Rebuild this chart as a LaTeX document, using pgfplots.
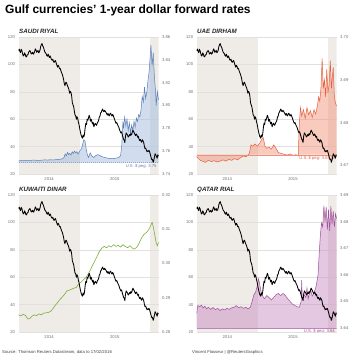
\documentclass[border=0pt]{standalone}
\usepackage{fontspec}
\setmainfont{Liberation Sans}
\usepackage{pgfplots}
\pgfplotsset{compat=1.18}
\usepackage{pgfplotstable}
\usepgfplotslibrary{fillbetween}
\tikzset{fill between/on layer=main}

\definecolor{band}{HTML}{EFEBE7}
\definecolor{gridc}{HTML}{E2E0DE}
\definecolor{tickgray}{HTML}{707070}
\definecolor{saudiline}{HTML}{5B80B8}
\definecolor{saudifill}{HTML}{A3BCDD}
\definecolor{uaeline}{HTML}{E4603F}
\definecolor{uaefill}{HTML}{F2987E}
\definecolor{kuwaitline}{HTML}{7DAE3A}
\definecolor{qatarline}{HTML}{A1509A}
\definecolor{qatarfill}{HTML}{C98FC3}

% Oil price (left axis), x = months since 17 Feb 2014
\pgfplotstableread{
m v
0.00 110.0
0.12 111.2
0.23 109.5
0.35 108.6
0.46 111.0
0.58 110.0
0.69 108.0
0.81 106.2
0.92 106.5
1.04 108.4
1.15 107.5
1.27 105.6
1.38 105.5
1.50 107.0
1.62 107.0
1.73 108.9
1.85 109.5
1.96 110.1
2.08 109.0
2.19 107.6
2.31 108.0
2.42 108.9
2.54 107.5
2.65 108.0
2.77 109.5
2.88 111.3
3.00 110.5
3.11 108.8
3.23 109.5
3.34 110.2
3.46 108.5
3.57 109.0
3.69 110.5
3.80 113.0
3.92 114.5
4.03 115.2
4.15 113.5
4.26 112.6
4.38 111.0
4.50 109.2
4.62 108.5
4.73 107.8
4.85 106.5
4.96 106.0
5.08 107.5
5.19 106.0
5.31 105.0
5.42 106.2
5.54 105.0
5.65 103.5
5.77 103.0
5.88 103.8
6.00 102.0
6.11 101.5
6.23 102.5
6.34 102.8
6.46 101.0
6.57 99.5
6.69 98.0
6.80 99.3
6.92 98.5
7.03 96.8
7.15 97.0
7.26 95.5
7.38 94.0
7.50 92.8
7.62 91.0
7.73 89.0
7.85 86.0
7.96 84.5
8.08 86.5
8.19 87.0
8.31 85.5
8.42 84.2
8.54 83.0
8.65 81.5
8.77 79.0
8.88 80.3
9.00 79.5
9.11 77.0
9.23 72.0
9.34 70.5
9.46 69.0
9.57 66.0
9.69 63.0
9.80 62.5
9.92 60.0
10.03 61.8
10.15 60.5
10.26 58.0
10.38 56.0
10.50 53.0
10.62 50.5
10.73 48.5
10.85 47.0
10.96 46.2
11.08 48.5
11.19 47.0
11.31 49.0
11.42 53.5
11.54 57.0
11.65 56.0
11.77 60.0
11.88 59.2
12.00 61.0
12.11 62.8
12.23 61.5
12.34 58.5
12.46 60.0
12.57 58.2
12.69 56.5
12.80 57.8
12.92 54.5
13.03 55.8
13.15 57.0
13.26 56.2
13.38 55.5
13.50 57.2
13.62 58.0
13.73 59.0
13.85 61.5
13.96 62.2
14.08 64.5
14.19 65.2
14.31 66.5
14.42 67.4
14.54 66.0
14.65 65.5
14.77 66.5
14.88 65.8
15.00 65.0
15.11 64.0
15.23 63.0
15.34 64.2
15.46 63.0
15.57 62.4
15.69 64.0
15.80 64.4
15.92 63.0
16.03 62.3
16.15 63.5
16.26 62.5
16.38 61.0
16.50 59.5
16.62 58.0
16.73 57.0
16.85 57.5
16.96 56.3
17.08 55.0
17.19 54.2
17.31 52.5
17.42 51.2
17.54 50.0
17.65 50.8
17.77 49.0
17.88 47.2
18.00 45.5
18.11 44.6
18.23 43.0
18.34 47.5
18.46 50.0
18.57 49.2
18.69 48.5
18.80 47.0
18.92 47.5
19.03 48.8
19.15 48.0
19.26 49.5
19.38 48.5
19.50 50.5
19.62 52.0
19.73 51.0
19.85 50.0
19.96 48.8
20.08 48.0
20.19 49.2
20.31 48.5
20.42 46.8
20.54 47.5
20.65 45.6
20.77 44.5
20.88 45.3
21.00 44.0
21.11 43.2
21.23 45.0
21.34 44.2
21.46 43.0
21.57 40.5
21.69 38.5
21.80 38.9
21.92 37.5
22.03 36.2
22.15 37.0
22.26 36.5
22.38 37.3
22.50 35.8
22.62 34.0
22.73 32.0
22.85 30.5
22.96 30.8
23.08 28.5
23.19 30.0
23.31 32.5
23.42 34.8
23.54 34.0
23.65 32.8
23.77 31.5
23.88 34.0
24.00 33.0
}\oil

\pgfplotstableread{
m v
0.0 3.7515
0.5 3.7518
1.0 3.7520
1.5 3.7516
2.0 3.7518
2.5 3.7522
3.0 3.7520
3.5 3.7519
4.0 3.7521
4.5 3.7524
5.0 3.7522
5.5 3.7525
6.0 3.7523
6.5 3.7526
7.0 3.7528
7.5 3.7533
7.8 3.7545
8.0 3.7575
8.2 3.7560
8.4 3.7590
8.6 3.7570
8.8 3.7580
9.0 3.7565
9.2 3.7595
9.4 3.7580
9.6 3.7600
9.8 3.7585
10.0 3.7595
10.2 3.7575
10.4 3.7590
10.6 3.7610
10.8 3.7620
11.0 3.7660
11.2 3.7700
11.4 3.7690
11.6 3.7620
11.8 3.7570
12.0 3.7545
12.3 3.7585
12.6 3.7555
12.9 3.7545
13.2 3.7560
13.6 3.7570
14.0 3.7560
14.4 3.7550
14.8 3.7545
15.2 3.7540
15.6 3.7535
16.0 3.7538
16.4 3.7535
16.8 3.7540
17.2 3.7545
17.5 3.7560
17.7 3.7650
17.9 3.7860
18.0 3.7800
18.2 3.7900
18.4 3.7820
18.6 3.7880
18.8 3.7780
19.0 3.7850
19.2 3.7760
19.4 3.7830
19.6 3.7780
19.8 3.7860
20.0 3.7810
20.2 3.7890
20.4 3.7860
20.6 3.7920
20.8 3.7900
21.0 3.7960
21.2 3.8080
21.4 3.8030
21.6 3.8160
21.8 3.8060
22.0 3.8120
22.2 3.8220
22.4 3.8300
22.6 3.8450
22.7 3.8530
22.9 3.8350
23.1 3.8460
23.3 3.8250
23.5 3.8120
23.6 3.8000
23.8 3.8120
24.0 3.8050
}\saudi

\pgfplotstableread{
m v
0.0 3.6720
0.3 3.6716
0.6 3.6712
1.0 3.6710
1.5 3.6707
2.0 3.6712
2.5 3.6709
3.0 3.6711
3.5 3.6708
4.0 3.6710
4.5 3.6713
5.0 3.6710
5.5 3.6714
6.0 3.6712
6.5 3.6716
7.0 3.6713
7.5 3.6718
8.0 3.6722
8.5 3.6720
9.0 3.6727
9.3 3.6748
9.6 3.6745
10.0 3.6750
10.4 3.6745
10.8 3.6752
11.1 3.6760
11.4 3.6765
11.7 3.6745
12.0 3.6740
12.4 3.6743
12.8 3.6738
13.2 3.6748
13.6 3.6740
14.0 3.6730
14.5 3.6728
15.0 3.6726
15.5 3.6724
16.0 3.6727
16.5 3.6723
17.0 3.6725
17.4 3.6722
17.6 3.6800
17.8 3.6835
18.0 3.6815
18.3 3.6830
18.6 3.6810
18.9 3.6835
19.2 3.6818
19.5 3.6828
19.8 3.6812
20.1 3.6830
20.4 3.6820
20.7 3.6840
20.9 3.6860
21.1 3.6850
21.3 3.6880
21.5 3.6950
21.7 3.6880
21.9 3.6900
22.1 3.6860
22.3 3.6925
22.5 3.6870
22.7 3.6890
22.9 3.6945
23.1 3.6880
23.4 3.6930
23.6 3.6860
23.8 3.6845
24.0 3.6838
}\uae

\pgfplotstableread{
m v
0.0 0.2850
0.4 0.2847
0.8 0.2852
1.2 0.2848
1.6 0.2838
2.0 0.2840
2.3 0.2846
2.7 0.2850
3.1 0.2848
3.5 0.2853
3.9 0.2850
4.3 0.2855
4.7 0.2856
5.1 0.2857
5.5 0.2860
5.9 0.2868
6.3 0.2878
6.7 0.2886
7.1 0.2895
7.5 0.2902
7.9 0.2910
8.3 0.2920
8.7 0.2922
9.1 0.2925
9.5 0.2928
9.9 0.2930
10.3 0.2940
10.7 0.2945
11.1 0.2952
11.5 0.2958
11.9 0.2968
12.3 0.2980
12.7 0.2995
13.1 0.3008
13.5 0.3022
13.9 0.3036
14.3 0.3045
14.7 0.3050
15.1 0.3046
15.5 0.3052
15.9 0.3048
16.3 0.3055
16.7 0.3050
17.1 0.3053
17.5 0.3048
17.9 0.3055
18.3 0.3050
18.7 0.3046
19.1 0.3052
19.5 0.3045
19.9 0.3042
20.3 0.3048
20.7 0.3060
21.1 0.3075
21.5 0.3085
21.9 0.3090
22.3 0.3098
22.7 0.3112
22.9 0.3120
23.1 0.3108
23.4 0.3080
23.6 0.3060
23.8 0.3052
24.0 0.3062
}\kuwait

\pgfplotstableread{
m v
0.0 3.6455
0.2 3.6485
0.5 3.6480
0.8 3.6486
1.1 3.6476
1.4 3.6482
1.7 3.6472
2.0 3.6478
2.4 3.6470
2.8 3.6477
3.2 3.6469
3.6 3.6474
4.0 3.6466
4.4 3.6472
4.8 3.6468
5.2 3.6474
5.6 3.6470
6.0 3.6476
6.4 3.6478
6.8 3.6484
7.2 3.6476
7.6 3.6480
8.0 3.6474
8.4 3.6478
8.8 3.6472
9.2 3.6478
9.5 3.6500
9.8 3.6525
10.1 3.6535
10.4 3.6560
10.6 3.6585
10.8 3.6565
11.0 3.6540
11.3 3.6520
11.6 3.6510
12.0 3.6522
12.4 3.6515
12.8 3.6505
13.2 3.6515
13.6 3.6525
14.0 3.6530
14.4 3.6522
14.8 3.6530
15.2 3.6522
15.6 3.6510
16.0 3.6500
16.4 3.6490
16.8 3.6485
17.2 3.6480
17.6 3.6478
17.9 3.6500
18.0 3.6580
18.1 3.6510
18.4 3.6525
18.7 3.6515
18.9 3.6550
19.1 3.6510
19.5 3.6545
19.8 3.6520
20.1 3.6530
20.5 3.6560
20.8 3.6600
21.0 3.6680
21.2 3.6750
21.4 3.6795
21.6 3.6780
21.8 3.6860
22.0 3.6800
22.2 3.6855
22.4 3.6770
22.6 3.6845
22.8 3.6765
23.0 3.6858
23.2 3.6790
23.4 3.6840
23.6 3.6780
23.8 3.6830
24.0 3.6810
}\qatar

\pgfplotsset{
  panel/.style={scale only axis, width=140pt, height=137pt, xmin=0, xmax=24,
    anchor=south west,
    axis line style={draw=none}, tick style={draw=none},
    ticklabel style={font=\fontsize{4.2}{5}\selectfont, text=tickgray},
    /pgf/number format/assume math mode=true},
  leftax/.style={panel, ymin=20, ymax=120, ytick={20,40,...,120},
    ymajorgrids, grid style={gridc, line width=0.4pt},
    xtick={5.25,16.5}, xticklabels={2014,2015}, axis on top},
  oilax/.style={panel, ymin=20, ymax=120, xtick=\empty, ytick=\empty},
  rightax/.style={panel, xtick=\empty, yticklabel pos=right,
    yticklabel style={/pgf/number format/fixed, /pgf/number format/fixed zerofill,
      /pgf/number format/precision=2}},
  oilline/.style={black, line width=0.85pt, line join=round},
}

\newcommand\bands{%
  \addplot[draw=none, fill=band] coordinates {(0,120) (10.5,120)} \closedcycle;
  \addplot[draw=none, fill=band] coordinates {(22.5,120) (24,120)} \closedcycle;
}

\begin{document}
\begin{tikzpicture}
\path (0,0) rectangle (355pt,355pt);

\node[anchor=base west, inner sep=0, font=\fontsize{12}{14}\selectfont\bfseries] at (5pt,341.5pt) {Gulf currencies' 1-year dollar forward rates};

% ---------- Saudi ----------
\begin{axis}[leftax, at={(18.5pt,181pt)}]
\bands
\end{axis}
\begin{axis}[rightax, at={(18.5pt,181pt)}, ymin=3.74, ymax=3.86, ytick={3.74,3.76,...,3.861}]
\addplot[name path=cur, draw=none] table[x=m,y=v] {\saudi};
\addplot[name path=peg, draw=none] coordinates {(0,3.75) (24,3.75)};
\addplot[fill=saudifill, fill opacity=0.5, draw=none] fill between[of=cur and peg];
\addplot[saudiline, line width=0.5pt] table[x=m,y=v] {\saudi};
\addplot[saudiline!70, line width=0.35pt, dash pattern=on 1pt off 1pt] coordinates {(0,3.75) (24,3.75)};
\node[anchor=north east, inner sep=0.6pt, font=\fontsize{4.2}{5}\selectfont, text=saudiline!60!gray] at (axis cs:23.8,3.7495) {U.S. \$ peg: 3.75};
\end{axis}
\begin{axis}[oilax, at={(18.5pt,181pt)}]
\addplot[oilline] table[x=m,y=v] {\oil};
\end{axis}
\node[anchor=base west, inner sep=0, font=\fontsize{6.2}{7}\selectfont\bfseries\itshape, text=black!85] at (19pt,321.5pt) {SAUDI RIYAL};

% ---------- UAE ----------
\begin{axis}[leftax, at={(196.7pt,181pt)}]
\bands
\end{axis}
\begin{axis}[rightax, at={(196.7pt,181pt)}, ymin=3.668, ymax=3.70, ytick={3.67,3.68,3.69,3.70}]
\addplot[name path=cur, draw=none] table[x=m,y=v] {\uae};
\addplot[name path=peg, draw=none] coordinates {(0,3.6725) (24,3.6725)};
\addplot[fill=uaefill, fill opacity=0.5, draw=none] fill between[of=cur and peg];
\addplot[uaeline, line width=0.5pt] table[x=m,y=v] {\uae};
\addplot[uaeline!70, line width=0.35pt] coordinates {(0,3.6725) (24,3.6725)};
\node[anchor=north east, inner sep=0.6pt, font=\fontsize{4.2}{5}\selectfont, text=uaeline] at (axis cs:23.8,3.6722) {U.S. \$ peg: 3.6725};
\end{axis}
\begin{axis}[oilax, at={(196.7pt,181pt)}]
\addplot[oilline] table[x=m,y=v] {\oil};
\end{axis}
\node[anchor=base west, inner sep=0, font=\fontsize{6.2}{7}\selectfont\bfseries\itshape, text=black!85] at (197pt,321.5pt) {UAE DIRHAM};

% ---------- Kuwait ----------
\begin{axis}[leftax, at={(18.5pt,23pt)}]
\bands
\end{axis}
\begin{axis}[rightax, at={(18.5pt,23pt)}, ymin=0.28, ymax=0.32, ytick={0.28,0.29,0.30,0.31,0.32}]
\addplot[kuwaitline, line width=0.6pt] table[x=m,y=v] {\kuwait};
\end{axis}
\begin{axis}[oilax, at={(18.5pt,23pt)}]
\addplot[oilline] table[x=m,y=v] {\oil};
\end{axis}
\node[anchor=base west, inner sep=0, font=\fontsize{6.2}{7}\selectfont\bfseries\itshape, text=black!85] at (19pt,163pt) {KUWAITI DINAR};

% ---------- Qatar ----------
\begin{axis}[leftax, at={(196.7pt,23pt)}]
\bands
\end{axis}
\begin{axis}[rightax, at={(196.7pt,23pt)}, ymin=3.6385, ymax=3.69, ytick={3.64,3.65,3.66,3.67,3.68,3.69}]
\addplot[name path=cur, draw=none] table[x=m,y=v] {\qatar};
\addplot[name path=peg, draw=none] coordinates {(0,3.64) (24,3.64)};
\addplot[fill=qatarfill, fill opacity=0.5, draw=none] fill between[of=cur and peg];
\addplot[qatarline, line width=0.5pt] table[x=m,y=v] {\qatar};
\addplot[qatarline!70, line width=0.35pt] coordinates {(0,3.64) (24,3.64)};
\node[anchor=north east, inner sep=0.6pt, font=\fontsize{4.2}{5}\selectfont, text=qatarline] at (axis cs:23.8,3.6398) {U.S. \$ peg: 3.64};
\end{axis}
\begin{axis}[oilax, at={(196.7pt,23pt)}]
\addplot[oilline] table[x=m,y=v] {\oil};
\end{axis}
\node[anchor=base west, inner sep=0, font=\fontsize{6.2}{7}\selectfont\bfseries\itshape, text=black!85] at (197pt,163pt) {QATAR RIAL};

\node[anchor=base west, inner sep=0, font=\fontsize{4.2}{5}\selectfont, text=black!75] at (2pt,1.8pt) {Source: Thomson Reuters Datastream, data to 17/02/2016};
\node[anchor=base west, inner sep=0, font=\fontsize{4.2}{5}\selectfont, text=black!75] at (192pt,1.8pt) {Vincent Flasseur | @ReutersGraphics};
\end{tikzpicture}
\end{document}
